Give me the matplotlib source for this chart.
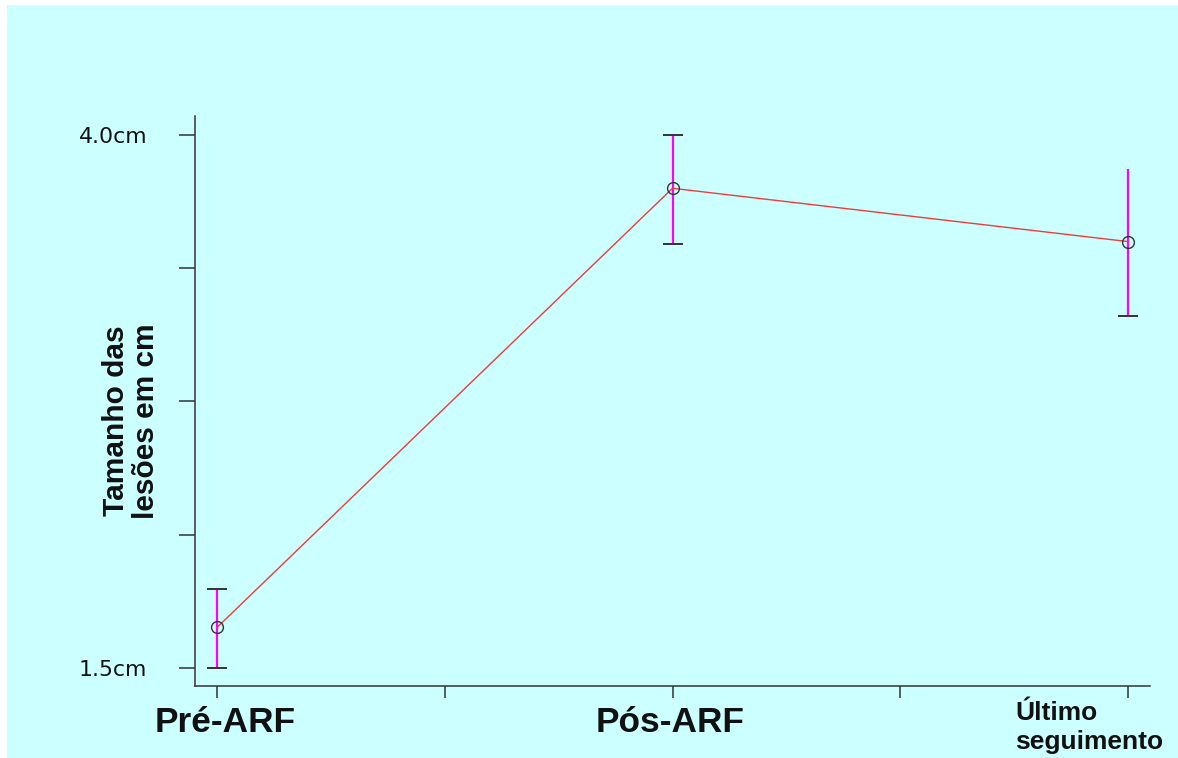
import matplotlib
matplotlib.use("Agg")
import matplotlib.pyplot as plt
from matplotlib.patches import Rectangle

# ---- data ----
categories = ["Pré-ARF", "Pós-ARF", "Último\nseguimento"]
means = [1.69, 3.75, 3.50]
err_low = [1.50, 3.49, 3.15]
err_high = [1.87, 4.00, 3.84]
upper_cap = [True, True, False]
ytick_values = [1.5, 2.125, 2.75, 3.375, 4.0]
ytick_labels = ["1.5cm", "", "", "", "4.0cm"]
minor_xticks = [0.5, 1.5]
ylabel = "Tamanho das\nlesões em cm"

W, H, DPI = 1178, 758, 100
fig = plt.figure(figsize=(W / DPI, H / DPI), dpi=DPI, facecolor="white")
bg = Rectangle((7 / W, 0), 1 - 7 / W, 753 / H, transform=fig.transFigure,
               facecolor="#ccffff", edgecolor="none", zorder=-10)
fig.patches.append(bg)

ax = fig.add_axes([195 / W, 72 / H, (1150 - 195) / W, (686 - 116) / H])
ax.set_facecolor("none")
ax.set_zorder(5)

x = list(range(len(categories)))
ax.vlines(x, err_low, err_high, color="#ff00ff", lw=1.6, zorder=2)
ax.plot(x, err_low, ls="none", marker="_", ms=14, mew=1.4, color="#333333", zorder=3)
xu = [xi for xi, u in zip(x, upper_cap) if u]
yu = [v for v, u in zip(err_high, upper_cap) if u]
ax.plot(xu, yu, ls="none", marker="_", ms=14, mew=1.4, color="#333333", zorder=3)
ax.plot(x, means, color="#ee3b3b", lw=1.0, zorder=4)
ax.plot(x, means, ls="none", marker="o", ms=8.5, mfc="none", mec="#333333", mew=1.0, zorder=5)

ax.set_xlim(-0.0483, 2.0483)
ax.set_ylim(1.4156, 4.089)

for s in ["top", "right"]:
    ax.spines[s].set_visible(False)
for s in ["left", "bottom"]:
    ax.spines[s].set_color("#333333")
    ax.spines[s].set_linewidth(1.1)

ax.set_yticks(ytick_values)
ax.set_yticklabels(ytick_labels, fontsize=15.8, family="DejaVu Sans", color="#111111")
ax.tick_params(axis="y", length=11.5, width=1.1, color="#333333", pad=23)

ax.set_xticks(x + minor_xticks)
ax.set_xticklabels([""] * (len(x) + len(minor_xticks)))
ax.tick_params(axis="x", length=8.6, width=1.1, color="#333333")

# category labels
offsets = [(6, -33, "center", 25.4), (-1.5, -33, "center", 25.4), (-81, -45.5, "left", 19)]
for xi, lab, (dx, dy, ha, fs) in zip(x, categories, offsets):
    ax.annotate(lab, xy=(xi, 0), xycoords=("data", "axes fraction"), xytext=(dx, dy),
                textcoords="offset points", ha=ha, va="baseline", fontsize=fs,
                fontweight="bold", family="Liberation Sans", color="#111111",
                linespacing=1.25, multialignment="left", annotation_clip=False)

fig.text(131 / W, 1 - 421 / H, ylabel, rotation=90, ha="center", va="center",
         fontsize=21.5, fontweight="heavy", family="Liberation Sans", color="#111111",
         linespacing=1.08, multialignment="center")

fig.savefig("out.png", dpi=DPI, facecolor="white")
